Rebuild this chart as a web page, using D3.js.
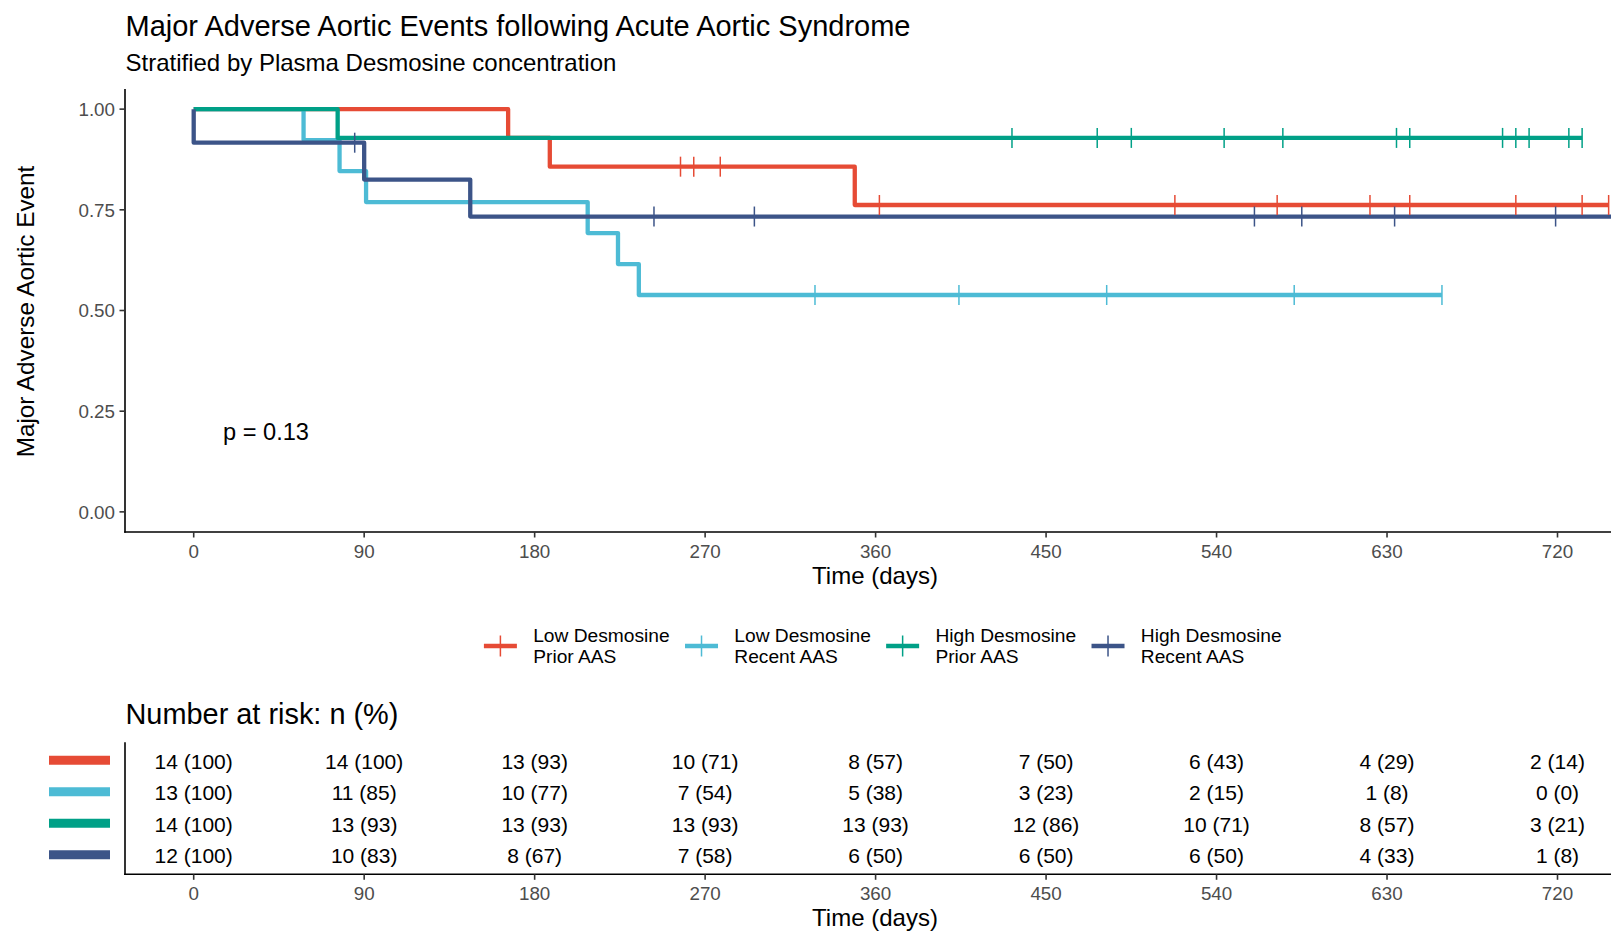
<!DOCTYPE html>
<html>
<head>
<meta charset="utf-8">
<script src="https://cdn.jsdelivr.net/npm/d3@7"></script>
<style>
  html, body { margin: 0; padding: 0; background: #fff; }
  svg { display: block; font-family: "Liberation Sans", Arial, Helvetica, sans-serif; }
</style>
</head>
<body>
<svg id="chart" width="1611" height="934"></svg>
<script>
// ---- Data ----------------------------------------------------------------
const groupLine1 = ["Low Desmosine", "Low Desmosine", "High Desmosine", "High Desmosine"];
const groupLine2 = ["Prior AAS", "Recent AAS", "Prior AAS", "Recent AAS"];
const groupColors = ["#E64B35", "#4DBBD5", "#00A087", "#3C5488"];

// follow-up times (days): events and censored observations per group
const lowPriorEvents = [166, 188, 349];
const lowPriorCensored = [257, 264, 278, 362, 518, 572, 621, 642, 698, 733, 747];
const lowRecentEvents = [58, 77, 91, 208, 224, 235];
const lowRecentCensored = [328, 328, 404, 404, 482, 581, 659];
const highPriorEvents = [76];
const highPriorCensored = [432, 477, 495, 544, 575, 635, 642, 691, 698, 705, 726, 733, 733];
const highRecentEvents = [0, 90, 146];
const highRecentCensored = [85, 243, 296, 560, 585, 634, 634, 719, 790];

// number at risk table
const riskTimes = [0, 90, 180, 270, 360, 450, 540, 630, 720];
const lowPriorRisk = [14, 14, 13, 10, 8, 7, 6, 4, 2];
const lowPriorPct = [100, 100, 93, 71, 57, 50, 43, 29, 14];
const lowRecentRisk = [13, 11, 10, 7, 5, 3, 2, 1, 0];
const lowRecentPct = [100, 85, 77, 54, 38, 23, 15, 8, 0];
const highPriorRisk = [14, 13, 13, 13, 13, 12, 10, 8, 3];
const highPriorPct = [100, 93, 93, 93, 93, 86, 71, 57, 21];
const highRecentRisk = [12, 10, 8, 7, 6, 6, 6, 4, 1];
const highRecentPct = [100, 83, 67, 58, 50, 50, 50, 33, 8];

const yTicks = [0, 0.25, 0.5, 0.75, 1];
const pValueText = "p = 0.13";

// ---- Kaplan-Meier estimate ---------------------------------------------
function kaplanMeier(events, censored) {
  const times = Array.from(new Set(events.concat(censored))).sort((a, b) => a - b);
  let atRisk = events.length + censored.length;
  let s = 1;
  const steps = [{ t: 0, s: 1 }];
  const marks = [];
  times.forEach(t => {
    const d = events.filter(e => e === t).length;
    const c = censored.filter(e => e === t).length;
    if (d > 0) { s = s * (1 - d / atRisk); steps.push({ t, s }); }
    if (c > 0) marks.push({ t, s });
    atRisk -= d + c;
  });
  steps.push({ t: times[times.length - 1], s });
  return { steps, marks };
}

const groups = [
  kaplanMeier(lowPriorEvents, lowPriorCensored),
  kaplanMeier(lowRecentEvents, lowRecentCensored),
  kaplanMeier(highPriorEvents, highPriorCensored),
  kaplanMeier(highRecentEvents, highRecentCensored)
];
const riskRows = [
  [lowPriorRisk, lowPriorPct],
  [lowRecentRisk, lowRecentPct],
  [highPriorRisk, highPriorPct],
  [highRecentRisk, highRecentPct]
];

// ---- Layout ---------------------------------------------------------------
const W = 1611;
const panelLeft = 125, panelTop = 89, panelBottom = 532;
const x = d3.scaleLinear().domain([0, 720]).range([193.7, 1557.5]);
const y = d3.scaleLinear().domain([-0.05, 1.05]).range([panelBottom, panelTop]);

const svg = d3.select("#chart");
const tickGrey = "#4D4D4D";
const axisCol = "#000";

svg.append("defs").append("clipPath").attr("id", "panelClip")
  .append("rect").attr("x", panelLeft).attr("y", 0).attr("width", W - panelLeft).attr("height", 600);

// titles
svg.append("text").attr("x", 125.5).attr("y", 36).attr("font-size", 29).attr("fill", "#000")
  .text("Major Adverse Aortic Events following Acute Aortic Syndrome");
svg.append("text").attr("x", 125.5).attr("y", 71).attr("font-size", 24).attr("fill", "#000")
  .text("Stratified by Plasma Desmosine concentration");

// ---- Survival curves -------------------------------------------------------
const plot = svg.append("g").attr("clip-path", "url(#panelClip)");
const line = d3.line().x(d => x(d.t)).y(d => y(d.s)).curve(d3.curveStepAfter);

groups.forEach((g, i) => {
  plot.append("path").datum(g.steps)
    .attr("d", line)
    .attr("fill", "none")
    .attr("stroke", groupColors[i])
    .attr("stroke-width", 4.3)
    .attr("stroke-linejoin", "round");
});
// censoring marks
groups.forEach((g, i) => {
  const m = plot.append("g").attr("stroke", groupColors[i]).attr("stroke-width", 1.5);
  g.marks.forEach(p => {
    m.append("line").attr("x1", x(p.t)).attr("x2", x(p.t))
      .attr("y1", y(p.s) - 10).attr("y2", y(p.s) + 10);
  });
});

// p-value
svg.append("text").attr("x", 223).attr("y", 440).attr("font-size", 23.6).attr("fill", "#000")
  .text(pValueText);

// ---- Axes ------------------------------------------------------------------
const yAxis = svg.append("g");
yAxis.append("line").attr("x1", panelLeft).attr("x2", panelLeft)
  .attr("y1", panelTop).attr("y2", panelBottom + 0.8)
  .attr("stroke", axisCol).attr("stroke-width", 1.6);
yTicks.forEach(v => {
  yAxis.append("line").attr("x1", panelLeft - 5.5).attr("x2", panelLeft)
    .attr("y1", y(v)).attr("y2", y(v)).attr("stroke", "#333").attr("stroke-width", 1.6);
  yAxis.append("text").attr("x", 115).attr("y", y(v) + 6.8)
    .attr("text-anchor", "end").attr("font-size", 18.8).attr("fill", tickGrey)
    .text(d3.format(".2f")(v));
});
svg.append("text")
  .attr("transform", "translate(33.5," + ((panelTop + panelBottom) / 2 + 1) + ") rotate(-90)")
  .attr("text-anchor", "middle").attr("font-size", 24.3).attr("fill", "#000")
  .text("Major Adverse Aortic Event");

function bottomAxis(yLine, labelBase, titleBase) {
  const g = svg.append("g");
  g.append("line").attr("x1", panelLeft - 0.8).attr("x2", W)
    .attr("y1", yLine).attr("y2", yLine).attr("stroke", axisCol).attr("stroke-width", 1.6);
  riskTimes.forEach(t => {
    g.append("line").attr("x1", x(t)).attr("x2", x(t))
      .attr("y1", yLine).attr("y2", yLine + 5.5).attr("stroke", "#333").attr("stroke-width", 1.6);
    g.append("text").attr("x", x(t)).attr("y", labelBase)
      .attr("text-anchor", "middle").attr("font-size", 18.8).attr("fill", tickGrey).text(t);
  });
  g.append("text").attr("x", 875).attr("y", titleBase)
    .attr("text-anchor", "middle").attr("font-size", 24).attr("fill", "#000").text("Time (days)");
}
bottomAxis(panelBottom, 558, 583.5);

// ---- Legend ---------------------------------------------------------------
const legend = svg.append("g");
let lx = 483.9;
const keyY = 646;
groupLine1.forEach((name, i) => {
  const item = legend.append("g");
  item.append("line").attr("x1", lx).attr("x2", lx + 33).attr("y1", keyY).attr("y2", keyY)
    .attr("stroke", groupColors[i]).attr("stroke-width", 4.3);
  item.append("line").attr("x1", lx + 16.5).attr("x2", lx + 16.5).attr("y1", keyY - 10.5).attr("y2", keyY + 10.5)
    .attr("stroke", groupColors[i]).attr("stroke-width", 1.5);
  const t = item.append("text").attr("x", lx + 49.3).attr("font-size", 19.2).attr("fill", "#000");
  const a = t.append("tspan").attr("x", lx + 49.3).attr("y", 642).text(name);
  const b = t.append("tspan").attr("x", lx + 49.3).attr("y", 662.7).text(groupLine2[i]);
  const w = Math.max(a.node().getComputedTextLength(), b.node().getComputedTextLength());
  lx = lx + 49.3 + w + 15.3;
});

// ---- Number at risk table -------------------------------------------------
svg.append("text").attr("x", 125.5).attr("y", 723.5).attr("font-size", 28.9).attr("fill", "#000")
  .text("Number at risk: n (%)");

const tableTop = 742.3, tableBottom = 874.3;
const rowY = d3.scalePoint().domain([0, 1, 2, 3]).range([tableTop, tableBottom]).padding(0.6);

svg.append("line").attr("x1", panelLeft).attr("x2", panelLeft)
  .attr("y1", tableTop).attr("y2", tableBottom + 0.8)
  .attr("stroke", axisCol).attr("stroke-width", 1.6);

riskRows.forEach((row, i) => {
  const yy = rowY(i);
  svg.append("line").attr("x1", 49).attr("x2", 110).attr("y1", yy - 0.8).attr("y2", yy - 0.8)
    .attr("stroke", groupColors[i]).attr("stroke-width", 9);
  riskTimes.forEach((t, j) => {
    svg.append("text").attr("x", x(t)).attr("y", yy + 7.6)
      .attr("text-anchor", "middle").attr("font-size", 21).attr("fill", "#000")
      .text(row[0][j] + " (" + row[1][j] + ")");
  });
});
bottomAxis(tableBottom, 900, 925.5);
</script>
</body>
</html>
